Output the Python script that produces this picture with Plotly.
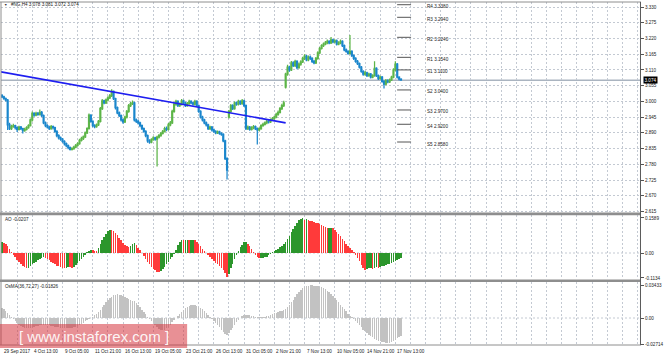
import plotly.graph_objects as go

# ---------------- data ----------------
opens = [3.020,3.016,3.010,3.004,2.918,2.905,2.912,2.915,2.908,2.902,
2.910,2.905,2.898,2.902,2.908,2.915,2.935,2.958,2.952,2.958,
2.955,2.962,2.950,2.925,2.915,2.910,2.905,2.912,2.908,2.895,
2.880,2.872,2.868,2.860,2.852,2.845,2.838,2.832,2.835,2.840,
2.846,2.852,2.864,2.870,2.876,2.890,2.905,2.952,2.930,2.915,
2.912,2.918,2.930,2.975,3.002,2.995,3.005,3.012,3.020,3.035,
3.010,2.978,2.960,2.950,2.935,2.928,2.945,2.965,2.985,2.992,
2.995,2.935,2.930,2.925,2.915,2.905,2.895,2.880,2.862,2.858,
2.866,2.872,2.868,2.875,2.880,2.888,2.895,2.905,2.902,2.918,
2.925,2.965,2.990,3.000,2.985,2.990,3.002,2.995,2.985,2.992,
3.000,2.995,2.990,3.000,2.985,2.965,2.945,2.935,2.925,2.918,
2.905,2.910,2.900,2.895,2.890,2.893,2.888,2.885,2.862,2.800,
2.945,2.965,2.985,2.975,2.995,2.990,3.000,2.992,3.002,2.985,
2.905,2.910,2.902,2.908,2.912,2.905,2.900,2.905,2.915,2.920,
2.925,2.930,2.928,2.935,2.940,2.945,2.955,2.962,2.975,2.985,
3.050,3.095,3.120,3.110,3.135,3.125,3.140,3.118,3.130,3.138,
3.150,3.158,3.145,3.155,3.150,3.140,3.135,3.150,3.170,3.185,
3.195,3.200,3.205,3.210,3.205,3.215,3.208,3.212,3.200,3.205,
3.210,3.195,3.180,3.175,3.168,3.175,3.160,3.150,3.140,3.132,
3.120,3.105,3.095,3.100,3.090,3.095,3.085,3.090,3.115,3.090,
3.080,3.085,3.070,3.060,3.072,3.068,3.075,3.085,3.110,3.130,
3.085,3.078]

highs = [3.026,3.020,3.014,3.008,2.925,2.918,2.922,2.918,2.912,2.915,
2.914,2.908,2.908,2.913,2.920,2.940,2.965,2.962,2.964,2.963,
2.972,2.966,2.954,2.930,2.920,2.915,2.917,2.916,2.911,2.899,
2.885,2.877,2.872,2.864,2.856,2.849,2.842,2.840,2.845,2.851,
2.857,2.869,2.876,2.881,2.895,2.910,2.958,2.955,2.934,2.920,
2.923,2.935,2.980,3.008,3.006,3.010,3.018,3.026,3.042,3.038,
3.013,2.982,2.965,2.954,2.940,2.950,2.970,2.991,2.998,3.003,
2.999,2.940,2.935,2.929,2.919,2.909,2.899,2.884,2.868,2.871,
2.878,2.876,2.880,2.886,2.893,2.900,2.911,2.912,2.924,2.931,
2.971,2.996,3.006,3.004,2.996,3.008,3.006,2.999,2.998,3.006,
3.004,2.999,3.006,3.004,2.989,2.969,2.950,2.939,2.930,2.922,
2.915,2.914,2.905,2.899,2.898,2.897,2.892,2.889,2.866,2.805,
2.970,2.991,2.990,3.000,3.000,3.006,3.004,3.008,3.006,2.989,
2.916,2.914,2.913,2.917,2.916,2.909,2.910,2.920,2.925,2.930,
2.935,2.934,2.940,2.945,2.950,2.960,2.968,2.980,2.992,3.002,
3.100,3.128,3.125,3.141,3.140,3.146,3.144,3.136,3.144,3.156,
3.165,3.162,3.160,3.160,3.154,3.145,3.155,3.175,3.190,3.200,
3.206,3.211,3.216,3.214,3.225,3.219,3.217,3.216,3.210,3.216,
3.214,3.199,3.185,3.179,3.232,3.179,3.164,3.154,3.145,3.136,
3.124,3.109,3.106,3.104,3.100,3.099,3.095,3.140,3.119,3.094,
3.090,3.089,3.074,3.078,3.077,3.080,3.090,3.116,3.140,3.134,
3.088,3.081]

lows = [3.012,3.006,3.000,2.900,2.900,2.900,2.908,2.902,2.893,2.898,
2.900,2.888,2.894,2.898,2.904,2.912,2.930,2.946,2.948,2.950,
2.951,2.945,2.920,2.910,2.905,2.900,2.901,2.902,2.890,2.875,
2.867,2.862,2.855,2.846,2.840,2.833,2.828,2.828,2.831,2.836,
2.842,2.848,2.860,2.865,2.872,2.886,2.902,2.925,2.910,2.906,
2.908,2.914,2.926,2.970,2.990,2.991,3.000,3.008,3.015,3.005,
2.972,2.955,2.945,2.930,2.922,2.924,2.940,2.960,2.980,2.987,
2.930,2.924,2.919,2.910,2.900,2.890,2.875,2.855,2.852,2.854,
2.862,2.862,2.772,2.870,2.876,2.884,2.891,2.896,2.898,2.913,
2.921,2.960,2.985,2.980,2.980,2.986,2.990,2.980,2.981,2.988,
2.990,2.985,2.986,2.980,2.960,2.940,2.930,2.920,2.912,2.900,
2.900,2.895,2.890,2.885,2.886,2.883,2.880,2.857,2.795,2.727,
2.940,2.960,2.970,2.971,2.985,2.986,2.987,2.988,2.980,2.900,
2.900,2.897,2.898,2.903,2.900,2.849,2.896,2.901,2.911,2.916,
2.920,2.923,2.924,2.931,2.936,2.941,2.950,2.958,2.970,2.980,
3.045,3.090,3.104,3.106,3.120,3.120,3.112,3.114,3.125,3.134,
3.145,3.140,3.140,3.145,3.134,3.130,3.131,3.146,3.166,3.181,
3.190,3.196,3.200,3.200,3.201,3.203,3.203,3.195,3.196,3.200,
3.190,3.175,3.170,3.163,3.164,3.155,3.145,3.135,3.127,3.115,
3.100,3.090,3.090,3.085,3.086,3.080,3.081,3.086,3.085,3.075,
3.076,3.065,3.045,3.056,3.063,3.064,3.071,3.081,3.105,3.080,
3.073,3.072]

closes = [3.016,3.010,3.004,2.918,2.905,2.912,2.915,2.908,2.902,2.910,
2.905,2.898,2.902,2.908,2.915,2.935,2.958,2.952,2.958,2.955,
2.962,2.950,2.925,2.915,2.910,2.905,2.912,2.908,2.895,2.880,
2.872,2.868,2.860,2.852,2.845,2.838,2.832,2.835,2.840,2.846,
2.852,2.864,2.870,2.876,2.890,2.905,2.952,2.930,2.915,2.912,
2.918,2.930,2.975,3.002,2.995,3.005,3.012,3.020,3.035,3.010,
2.978,2.960,2.950,2.935,2.928,2.945,2.965,2.985,2.992,2.995,
2.935,2.930,2.925,2.915,2.905,2.895,2.880,2.862,2.858,2.866,
2.872,2.868,2.875,2.880,2.888,2.895,2.905,2.902,2.918,2.925,
2.965,2.990,3.000,2.985,2.990,3.002,2.995,2.985,2.992,3.000,
2.995,2.990,3.000,2.985,2.965,2.945,2.935,2.925,2.918,2.905,
2.910,2.900,2.895,2.890,2.893,2.888,2.885,2.862,2.800,2.760,
2.965,2.985,2.975,2.995,2.990,3.000,2.992,3.002,2.985,2.905,
2.910,2.902,2.908,2.912,2.905,2.900,2.905,2.915,2.920,2.925,
2.930,2.928,2.935,2.940,2.945,2.955,2.962,2.975,2.985,2.995,
3.095,3.120,3.110,3.135,3.125,3.140,3.118,3.130,3.138,3.150,
3.158,3.145,3.155,3.150,3.140,3.135,3.150,3.170,3.185,3.195,
3.200,3.205,3.210,3.205,3.215,3.208,3.212,3.200,3.205,3.210,
3.195,3.180,3.175,3.168,3.175,3.160,3.150,3.140,3.132,3.120,
3.105,3.095,3.100,3.090,3.095,3.085,3.090,3.115,3.090,3.080,
3.085,3.070,3.060,3.072,3.068,3.075,3.085,3.110,3.130,3.085,
3.078,3.074]

ao_values = [0.048,0.045,0.040,0.030,0.018,0.005,-0.008,-0.020,-0.032,-0.042,
-0.050,-0.057,-0.063,-0.068,-0.066,-0.060,-0.052,-0.046,-0.040,-0.034,
-0.028,-0.022,-0.018,-0.022,-0.028,-0.034,-0.040,-0.046,-0.052,-0.057,
-0.061,-0.064,-0.066,-0.068,-0.066,-0.063,-0.064,-0.066,-0.062,-0.055,
-0.046,-0.036,-0.026,-0.016,-0.008,0.004,0.010,0.014,0.013,0.010,
0.008,0.022,0.040,0.058,0.074,0.088,0.098,0.104,0.103,0.099,
0.092,0.082,0.070,0.058,0.047,0.038,0.030,0.027,0.034,0.041,
0.045,0.036,0.024,0.012,0.002,-0.012,-0.026,-0.040,-0.052,-0.063,
-0.072,-0.079,-0.084,-0.086,-0.082,-0.074,-0.064,-0.052,-0.040,-0.028,
-0.016,-0.004,0.015,0.035,0.052,0.060,0.058,0.059,0.060,0.058,
0.059,0.060,0.057,0.050,0.040,0.030,0.020,0.010,0.002,-0.008,
-0.018,-0.028,-0.036,-0.044,-0.052,-0.060,-0.068,-0.078,-0.092,-0.108,
-0.095,-0.070,-0.048,-0.028,-0.010,0.010,0.026,0.038,0.048,0.052,
0.042,0.030,0.016,0.004,-0.008,-0.016,-0.022,-0.022,-0.021,-0.020,
-0.016,-0.010,-0.004,0.004,0.010,0.015,0.020,0.026,0.033,0.040,
0.048,0.062,0.078,0.094,0.110,0.124,0.137,0.148,0.156,0.158,
0.152,0.153,0.150,0.147,0.144,0.141,0.138,0.135,0.132,0.128,
0.122,0.116,0.112,0.114,0.115,0.113,0.105,0.096,0.086,0.075,
0.064,0.053,0.042,0.031,0.021,0.012,0.004,-0.008,-0.022,-0.038,
-0.053,-0.066,-0.076,-0.072,-0.070,-0.068,-0.071,-0.066,-0.064,-0.066,
-0.062,-0.060,-0.058,-0.055,-0.052,-0.048,-0.044,-0.040,-0.035,-0.030,
-0.025,-0.0207]

osma_values = [0.0100,0.0090,0.0070,0.0050,0.0030,0.0010,-0.0010,-0.0030,-0.0050,-0.0070,
-0.0080,-0.0090,-0.0100,-0.0105,-0.0105,-0.0100,-0.0095,-0.0090,-0.0085,-0.0080,
-0.0078,-0.0075,-0.0073,-0.0073,-0.0075,-0.0078,-0.0080,-0.0085,-0.0090,-0.0095,
-0.0098,-0.0100,-0.0102,-0.0104,-0.0105,-0.0106,-0.0105,-0.0102,-0.0098,-0.0092,
-0.0085,-0.0075,-0.0062,-0.0048,-0.0034,-0.0020,-0.0008,0.0004,0.0015,0.0030,
0.0045,0.0065,0.0088,0.0112,0.0138,0.0162,0.0185,0.0205,0.0222,0.0235,
0.0242,0.0245,0.0243,0.0238,0.0230,0.0222,0.0212,0.0202,0.0192,0.0182,
0.0172,0.0155,0.0135,0.0112,0.0088,0.0063,0.0038,0.0015,-0.0008,-0.0030,
-0.0055,-0.0078,-0.0098,-0.0113,-0.0122,-0.0125,-0.0120,-0.0108,-0.0090,-0.0068,
-0.0045,-0.0022,0.0000,0.0020,0.0042,0.0065,0.0085,0.0102,0.0115,0.0125,
0.0132,0.0135,0.0134,0.0128,0.0118,0.0105,0.0090,0.0072,0.0052,0.0032,
0.0012,-0.0008,-0.0030,-0.0052,-0.0075,-0.0098,-0.0120,-0.0142,-0.0162,-0.0177,
-0.0160,-0.0130,-0.0100,-0.0072,-0.0045,-0.0020,0.0002,0.0018,0.0028,0.0032,
0.0033,0.0030,0.0025,0.0018,0.0012,0.0008,0.0006,0.0006,0.0008,0.0012,
0.0018,0.0025,0.0033,0.0040,0.0048,0.0055,0.0062,0.0070,0.0078,0.0088,
0.0098,0.0110,0.0135,0.0162,0.0190,0.0218,0.0245,0.0270,0.0292,0.0310,
0.0323,0.0332,0.0338,0.0340,0.0340,0.0338,0.0335,0.0332,0.0328,0.0322,
0.0315,0.0305,0.0285,0.0270,0.0252,0.0232,0.0210,0.0188,0.0165,0.0140,
0.0115,0.0090,0.0068,0.0046,0.0026,0.0008,-0.0010,-0.0030,-0.0052,-0.0075,
-0.0098,-0.0120,-0.0140,-0.0158,-0.0175,-0.0190,-0.0203,-0.0215,-0.0225,-0.0235,
-0.0243,-0.0250,-0.0255,-0.0258,-0.0260,-0.0258,-0.0252,-0.0242,-0.0228,-0.0213,
-0.0198,-0.01826]

time_labels = ["29 Sep 2017", "4 Oct 13:00", "9 Oct 05:00", "11 Oct 21:00",
               "16 Oct 13:00", "19 Oct 05:00", "23 Oct 21:00", "26 Oct 13:00",
               "31 Oct 05:00", "2 Nov 21:00", "7 Nov 13:00", "10 Nov 05:00",
               "14 Nov 21:00", "17 Nov 13:00"]
bars_per_label = 16

price_ticks = [3.330, 3.275, 3.220, 3.165, 3.110, 3.055, 3.000, 2.945,
               2.890, 2.835, 2.780, 2.725, 2.670, 2.615]
ao_ticks = [0.1589, 0.0, -0.1134]
ao_tick_text = ["0.1589", "0.00", "-0.1134"]
osma_ticks = [0.03433, 0.0, -0.02714]
osma_tick_text = ["0.03433", "0.00", "-0.02714"]

pivot_names = ["R4", "R3", "R2", "R1", "S1", "S2", "S3", "S4", "S5"]
pivot_values = [3.3380, 3.2940, 3.2240, 3.1540, 3.1100, 3.0400, 2.9700, 2.9200, 2.8580]

trend_bars = [-0.53, 150.0]
trend_prices = [3.1033, 2.9250]

symbol_title = "#NG,H4 3.078 3.081 3.072 3.074"
last_price = 3.074
ao_title = "AO -0.0207"
osma_title = "OsMA(36,72,27) -0.01826"
watermark = "[ www.instaforex.com ]"

# ---------------- layout helpers ----------------
W, H = 665, 357
ML, MR, MT, MB = 1, 22, 2, 12
PW = W - ML - MR
PH = H - MT - MB

def fy(pix):
    return (H - MB - pix) / PH

def fx(pix):
    return (pix - ML) / PW

n = len(closes)
idx = list(range(n))
FONT = "Liberation Sans, Arial, sans-serif"
FS = 4.6
GRID = "#c3c9d2"
TXT = "#1a1a1a"

fig = go.Figure()

fig.add_trace(go.Candlestick(
    x=idx, open=opens, high=highs, low=lows, close=closes,
    increasing=dict(line=dict(color="#5db548", width=1.25), fillcolor="#72c65c"),
    decreasing=dict(line=dict(color="#1a86cc", width=1.25), fillcolor="#2290d4"),
    whiskerwidth=0, xaxis="x", yaxis="y", hoverinfo="skip"))

fig.add_trace(go.Scatter(x=trend_bars, y=trend_prices, mode="lines",
                         line=dict(color="#1e1ef0", width=1.6),
                         xaxis="x", yaxis="y", hoverinfo="skip"))

ao_colors = []
for i, v in enumerate(ao_values):
    if i == 0 or v >= ao_values[i - 1]:
        ao_colors.append("#2c962c")
    else:
        ao_colors.append("#ff3a3a")
fig.add_trace(go.Bar(x=idx, y=ao_values, marker=dict(color=ao_colors, line=dict(width=0)),
                     width=0.8, xaxis="x", yaxis="y2", hoverinfo="skip"))

fig.add_trace(go.Bar(x=idx, y=osma_values, marker=dict(color="#c2c2c2", line=dict(width=0)),
                     width=0.75, xaxis="x", yaxis="y3", hoverinfo="skip"))

px_per_bar = 1.90
x0_pix = 2.0
x_lo = (ML - x0_pix) / px_per_bar
x_hi = (ML + PW - x0_pix) / px_per_bar

grid_vals = list(range(0, int(x_hi) + 1, 8))

shapes = []
annotations = []

# bid line
shapes.append(dict(type="line", xref="paper", x0=0, x1=1, yref="y", y0=last_price, y1=last_price,
                   line=dict(color="#aab4c0", width=1.6), layer="between"))
# zero lines of the indicator panes
for yr in ("y2", "y3"):
    shapes.append(dict(type="line", xref="paper", x0=0, x1=1, yref=yr, y0=0, y1=0,
                       line=dict(color=GRID, width=1, dash="2px,2px"), layer="between"))
# pivot short level lines + labels
for name, val in zip(pivot_names, pivot_values):
    shapes.append(dict(type="line", xref="x", x0=(399 - x0_pix) / px_per_bar,
                       x1=(413 - x0_pix) / px_per_bar, yref="y", y0=val, y1=val,
                       line=dict(color="#555555", width=1)))
    annotations.append(dict(xref="x", yref="y", x=(427 - x0_pix) / px_per_bar, y=val,
                            text=f"{name} {val:.4f}", showarrow=False, xanchor="left",
                            yanchor="middle", yshift=-2,
                            font=dict(size=FS, color=TXT, family=FONT)))

# pane separators and borders
for top, bot in ((212.6, 215.3), (279.4, 282.0)):
    shapes.append(dict(type="rect", xref="paper", x0=fx(0), x1=fx(644), yref="paper",
                       y0=fy(bot), y1=fy(top), fillcolor="#8e8e8e", line=dict(width=0),
                       layer="above"))
shapes.append(dict(type="line", xref="paper", x0=fx(0), x1=fx(644), yref="paper",
                   y0=fy(2), y1=fy(2), line=dict(color="#8e8e8e", width=1)))
shapes.append(dict(type="line", xref="paper", x0=fx(0), x1=fx(644), yref="paper",
                   y0=fy(345), y1=fy(345), line=dict(color="#8e8e8e", width=1)))
shapes.append(dict(type="line", xref="paper", x0=fx(1), x1=fx(1), yref="paper",
                   y0=fy(345), y1=fy(2), line=dict(color="#8e8e8e", width=1)))
shapes.append(dict(type="line", xref="paper", x0=fx(643.5), x1=fx(643.5), yref="paper",
                   y0=fy(345), y1=fy(2), line=dict(color="#5a5a5a", width=1)))

# watermark box
shapes.append(dict(type="rect", xref="paper", x0=fx(0), x1=fx(188), yref="paper",
                   y0=fy(348), y1=fy(324), fillcolor="rgba(214,52,62,0.55)",
                   line=dict(width=0), layer="above"))
annotations.append(dict(xref="paper", yref="paper", x=fx(94), y=fy(336.5), text=watermark,
                        showarrow=False, xanchor="center", yanchor="middle",
                        font=dict(size=15, color="rgba(255,255,255,0.92)", family=FONT)))

# titles
annotations.append(dict(xref="paper", yref="paper", x=fx(2.5), y=fy(4.5), text="▼",
                        showarrow=False, xanchor="left", yanchor="middle",
                        font=dict(size=3.5, color="#333", family=FONT)))
annotations.append(dict(xref="paper", yref="paper", x=fx(9), y=fy(4.8), text=symbol_title,
                        showarrow=False, xanchor="left", yanchor="middle",
                        font=dict(size=FS, color=TXT, family=FONT)))
annotations.append(dict(xref="paper", yref="paper", x=fx(3), y=fy(219.5), text=ao_title,
                        showarrow=False, xanchor="left", yanchor="middle",
                        font=dict(size=FS, color=TXT, family=FONT)))
annotations.append(dict(xref="paper", yref="paper", x=fx(3), y=fy(286), text=osma_title,
                        showarrow=False, xanchor="left", yanchor="middle",
                        font=dict(size=FS, color=TXT, family=FONT)))
# current price marker
annotations.append(dict(xref="paper", yref="y", x=fx(646.5), y=last_price, text=f"{last_price:.3f}",
                        showarrow=False, xanchor="left", yanchor="middle", bgcolor="#000000",
                        borderpad=0.5, font=dict(size=FS, color="#ffffff", family=FONT)))
# time labels
for k, lab in enumerate(time_labels):
    annotations.append(dict(xref="x", yref="paper", x=k * bars_per_label, y=fy(351),
                            text=lab, showarrow=False, xanchor="left", yanchor="middle",
                            font=dict(size=FS, color=TXT, family=FONT)))

main_lo = 2.615 - 1.5 / 286.0
main_hi = 3.330 + 5.0 / 286.0
ao_scale = 0.004538
osma_scale = 0.001042

yax_common = dict(side="right", anchor="x", ticks="outside", ticklen=3, tickcolor="#555",
                  tickfont=dict(size=FS, color=TXT, family=FONT), showline=False,
                  zeroline=False, fixedrange=True)

fig.update_layout(
    width=W, height=H, autosize=False,
    margin=dict(l=ML, r=MR, t=MT, b=MB, pad=0),
    paper_bgcolor="white", plot_bgcolor="white",
    showlegend=False, hovermode=False, bargap=0,
    xaxis=dict(range=[x_lo, x_hi], domain=[0, 1], anchor="y3", tickvals=grid_vals,
               ticktext=["" for _ in grid_vals], showticklabels=False, ticks="",
               showgrid=True, gridcolor=GRID, griddash="2px,2px", gridwidth=1,
               zeroline=False, showline=False, rangeslider=dict(visible=False),
               fixedrange=True),
    yaxis=dict(domain=[fy(213), fy(2)], range=[main_lo, main_hi], tickvals=price_ticks,
               ticktext=[f"{v:.3f}" for v in price_ticks], showgrid=True, gridcolor=GRID,
               griddash="2px,2px", **yax_common),
    yaxis2=dict(domain=[fy(279), fy(215)], range=[-26 * ao_scale, 38 * ao_scale],
                tickvals=ao_ticks, ticktext=ao_tick_text, showgrid=False, **yax_common),
    yaxis3=dict(domain=[0, fy(282)], range=[-27 * osma_scale, 36 * osma_scale],
                tickvals=osma_ticks, ticktext=osma_tick_text, showgrid=False, **yax_common),
    shapes=shapes, annotations=annotations,
)

fig.write_html("out.html", config={"displayModeBar": False, "staticPlot": True},
               post_script="document.body.style.margin='0px';document.body.style.overflow='hidden';")
